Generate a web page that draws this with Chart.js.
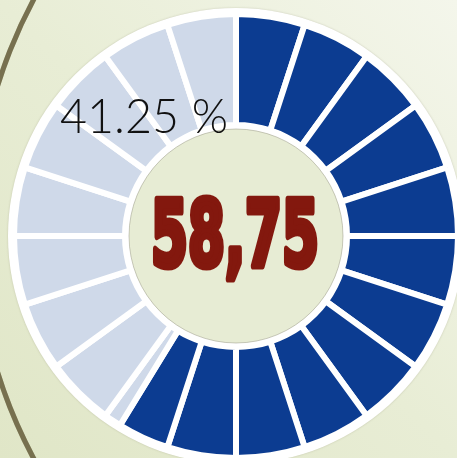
<!DOCTYPE html>
<html>
<head>
<meta charset="utf-8">
<script src="https://cdn.jsdelivr.net/npm/chart.js@4"></script>
<style>
  html, body { margin: 0; padding: 0; overflow: hidden; width: 457px; height: 458px; background: #e6ebd2; }
  canvas { display: block; }
</style>
</head>
<body>
<canvas id="gauge" width="472" height="472"></canvas>
<script>
// 20 ring segments of 5 % each; the 12th is split at 58.75 %
var segmentShares = [5, 5, 5, 5, 5, 5, 5, 5, 5, 5, 5, 3.75, 1.25, 5, 5, 5, 5, 5, 5, 5, 5];
var segmentFilled = [1, 1, 1, 1, 1, 1, 1, 1, 1, 1, 1, 1, 0, 0, 0, 0, 0, 0, 0, 0, 0];
var centerLabel = '58,75';
var restLabel = '41.25 %';

var DARK = '#0c3c91';
var LIGHT = '#cfd9e9';

var backdrop = {
  id: 'backdrop',
  beforeDraw: function(chart) {
    var ctx = chart.ctx;
    ctx.save();
    var g = ctx.createLinearGradient(457, 0, 0, 458);
    g.addColorStop(0, '#f4f6eb');
    g.addColorStop(0.5, '#e8edd5');
    g.addColorStop(1, '#e0e6c7');
    ctx.fillStyle = g;
    ctx.fillRect(0, 0, chart.width, chart.height);
    // decorative arc of the slide theme
    ctx.beginPath();
    ctx.arc(461, 229, 485, 0, Math.PI * 2);
    ctx.strokeStyle = 'rgba(160,165,120,0.5)';
    ctx.lineWidth = 5;
    ctx.translate(-3, 2);
    ctx.stroke();
    ctx.setTransform(1, 0, 0, 1, 0, 0);
    ctx.beginPath();
    ctx.arc(461, 229, 485, 0, Math.PI * 2);
    ctx.strokeStyle = '#77704f';
    ctx.lineWidth = 5;
    ctx.stroke();
    ctx.restore();
  },
  beforeDatasetsDraw: function(chart) {
    var arc = chart.getDatasetMeta(0).data[0];
    if (!arc) return;
    var ctx = chart.ctx;
    ctx.save();
    ctx.beginPath();
    ctx.arc(arc.x, arc.y, arc.outerRadius + 6, 0, Math.PI * 2);
    ctx.fillStyle = '#ffffff';
    ctx.shadowColor = 'rgba(120,120,90,0.35)';
    ctx.shadowBlur = 2;
    ctx.fill();
    ctx.shadowColor = 'transparent';
    ctx.beginPath();
    ctx.arc(arc.x, arc.y, arc.innerRadius - 4, 0, Math.PI * 2);
    ctx.fillStyle = '#e7ecd4';
    ctx.fill();
    ctx.strokeStyle = 'rgba(150,150,130,0.5)';
    ctx.lineWidth = 1;
    ctx.stroke();
    ctx.restore();
  },
  afterDatasetsDraw: function(chart) {
    var arc = chart.getDatasetMeta(0).data[0];
    if (!arc) return;
    var ctx = chart.ctx;
    ctx.save();
    // big center value, condensed and heavy
    ctx.font = 'bold 100px "DejaVu Sans"';
    ctx.textBaseline = 'alphabetic';
    var w = ctx.measureText(centerLabel).width;
    var sx = 168 / w, sy = 66 / 73;
    ctx.translate(151, 266);
    ctx.scale(sx, sy);
    ctx.fillStyle = '#83180e';
    ctx.strokeStyle = '#83180e';
    ctx.lineWidth = 8;
    ctx.lineJoin = 'round';
    ctx.fillText(centerLabel, 0, 0);
    ctx.strokeText(centerLabel, 0, 0);
    ctx.restore();

    ctx.save();
    ctx.font = '300 47px Lato';
    ctx.fillStyle = '#111111';
    ctx.textBaseline = 'alphabetic';
    ctx.fillText(restLabel, 60, 133, 168);
    ctx.restore();
  }
};

new Chart(document.getElementById('gauge'), {
  type: 'doughnut',
  data: {
    labels: segmentShares.map(function(v, i) { return 'S' + (i + 1); }),
    datasets: [{
      data: segmentShares,
      backgroundColor: segmentFilled.map(function(f) { return f ? DARK : LIGHT; }),
      borderColor: '#ffffff',
      borderWidth: 6,
      hoverOffset: 0
    }]
  },
  options: {
    responsive: false,
    animation: false,
    cutout: '50%',
    layout: { padding: { left: 11, top: 11, right: 11, bottom: 11 } },
    plugins: { legend: { display: false }, tooltip: { enabled: false } },
    events: []
  },
  plugins: [backdrop]
});
</script>
</body>
</html>
